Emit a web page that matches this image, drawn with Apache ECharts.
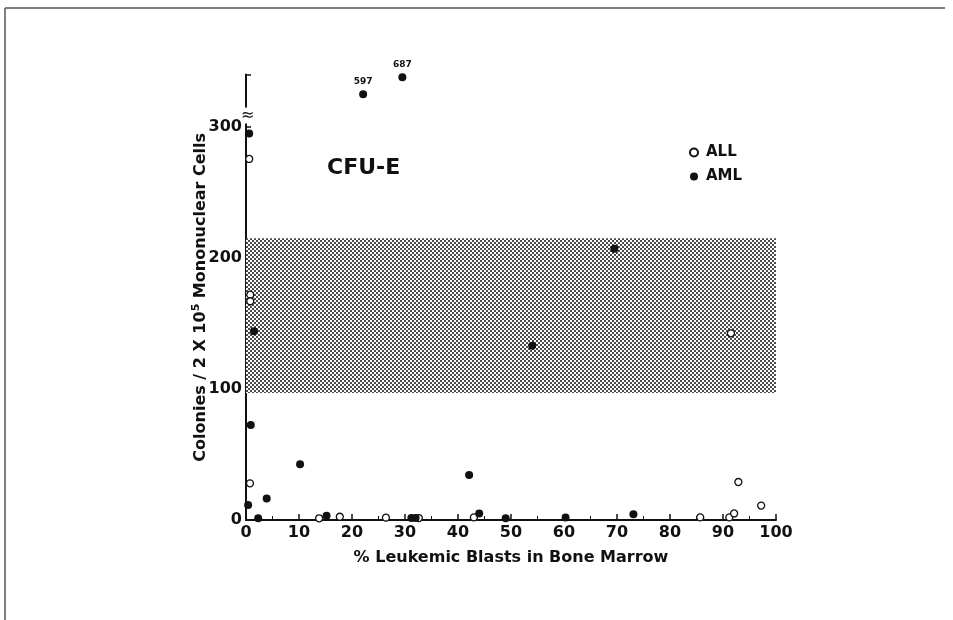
<!DOCTYPE html>
<html>
<head>
<meta charset="utf-8">
<script src="https://cdn.jsdelivr.net/npm/echarts@6/dist/echarts.min.js"></script>
<style>
  html, body { margin: 0; padding: 0; background: #fff; }
  #chart { width: 953px; height: 620px; }
</style>
</head>
<body>
<div id="chart"></div>
<script>
// % blasts (x) vs colonies per 2x10^5 cells (y)
const allPoints = [
  [0.6, 275.6], [0.8, 172], [0.8, 167], [0.75, 28],
  [13.8, 1.3], [17.7, 2.5], [26.4, 1.8], [32.6, 1.5],
  [43, 2], [85.7, 2], [91.2, 2], [92.1, 5],
  [92.9, 29], [97.2, 11], [91.5, 142.5]
]
const amlPoints = [
  [0.6, 295], [1.5, 144], [0.9, 72.5], [10.2, 42.5],
  [3.9, 16.5], [0.4, 11.5], [2.3, 1.3], [15.2, 3.3],
  [31.2, 1.5], [32.0, 1.5], [42.1, 34.3], [44, 5],
  [49, 1.3], [60.3, 2], [73.1, 4.3], [69.5, 207], [54, 133]
]
// off-scale AML values, drawn above the axis break
const offScaleX = [22.1, 29.5]
const offScaleY = [325, 338]   // where they sit above the break
const offScaleVal = [597, 687]

const normalRange = [97, 215]  // shaded normal range
const xTicks = [0, 10, 20, 30, 40, 50, 60, 70, 80, 90, 100]
const yTicks = [0, 100, 200, 300]

// halftone fill for the normal range
const pat = document.createElement('canvas')
pat.width = 4; pat.height = 4
const pctx = pat.getContext('2d')
pctx.fillStyle = '#fff'
pctx.fillRect(0, 0, 4, 4)
pctx.fillStyle = '#4a4a4a'
pctx.fillRect(0, 0, 2, 2)
pctx.fillRect(2, 2, 2, 2)

const chart = echarts.init(document.getElementById('chart'))
const font = 'DejaVu Sans'

const option = {
  backgroundColor: '#fff',
  animation: false,
  title: {
    text: 'CFU-E',
    left: 322, top: 152,
    textStyle: { fontFamily: font, fontSize: 22, fontWeight: 'bold', color: '#111' }
  },
  legend: {
    orient: 'vertical',
    left: 684, top: 140,
    itemWidth: 8, itemHeight: 8, itemGap: 9,
    icon: 'circle',
    textStyle: { fontFamily: font, fontSize: 15, fontWeight: 'bold', color: '#111', padding: [0, 0, 0, 3] },
    data: ['ALL', 'AML']
  },
  grid: { left: 246, right: 177, top: 74.6, bottom: 100 },
  xAxis: {
    type: 'value', min: 0, max: 100, interval: 10,
    name: '% Leukemic Blasts in Bone Marrow',
    nameLocation: 'middle', nameGap: 30,
    nameTextStyle: { fontFamily: font, fontSize: 16, fontWeight: 'bold', color: '#111' },
    axisLine: { show: true, lineStyle: { color: '#111', width: 2 } },
    axisTick: { inside: true, length: 6, lineStyle: { color: '#111', width: 1.5 } },
    minorTick: { show: true, splitNumber: 2, length: 4, lineStyle: { color: '#111' } },
    splitLine: { show: false },
    axisLabel: {
      margin: 5, fontFamily: font, fontSize: 16, fontWeight: 'bold', color: '#111',
      formatter: v => xTicks.includes(v) ? String(v) : ''
    }
  },
  yAxis: {
    type: 'value', min: 0, max: 340, interval: 100,
    name: 'Colonies / 2 X 10{sup|5} Mononuclear Cells',
    nameLocation: 'middle', nameGap: 35, nameMoveOverlap: false,
    nameTextStyle: {
      fontFamily: font, fontSize: 16, fontWeight: 'bold', color: '#111',
      rich: { sup: { fontFamily: font, fontSize: 11, fontWeight: 'bold', color: '#111', padding: [0, 0, 9, 0] } }
    },
    axisLine: { show: true, lineStyle: { color: '#111', width: 2 } },
    axisTick: { inside: true, length: 5, lineStyle: { color: '#111', width: 1.5 } },
    splitLine: { show: false },
    axisLabel: {
      margin: 4, fontFamily: font, fontSize: 16, fontWeight: 'bold', color: '#111',
      formatter: v => yTicks.includes(v) ? String(v) : ''
    }
  },
  series: [
    {
      name: 'ALL', type: 'scatter', symbol: 'circle', symbolSize: 7,
      itemStyle: { color: '#fff', borderColor: '#111', borderWidth: 1.3, opacity: 1 },
      data: allPoints,
      z: 3,
      markArea: {
        silent: true,
        itemStyle: { color: { image: pat, repeat: 'repeat' }, opacity: 1 },
        data: [[{ coord: [0, normalRange[0]] }, { coord: [100, normalRange[1]] }]],
        z: 1
      }
    },
    {
      name: 'AML', type: 'scatter', symbol: 'circle', symbolSize: 8,
      itemStyle: { color: '#111', opacity: 1 },
      data: amlPoints,
      z: 4
    },
    {
      name: 'AML off-scale', type: 'scatter', symbol: 'circle', symbolSize: 8,
      itemStyle: { color: '#111', opacity: 1 },
      data: offScaleX.map((x, i) => ({ value: [x, offScaleY[i]], real: offScaleVal[i] })),
      label: {
        show: true, position: 'top', distance: 4,
        fontFamily: font, fontSize: 9, fontWeight: 'bold', color: '#111',
        formatter: p => String(p.data.real)
      },
      z: 4
    }
  ]
}
chart.setOption(option)

// axis break mark just above 300, and the figure's frame lines
const brk = chart.convertToPixel({ gridIndex: 0 }, [0, 308])
chart.setOption({
  graphic: [
    { type: 'text', x: brk[0] - 5, y: brk[1] - 9, z: 10,
      style: { text: '≈', fontSize: 16, fontFamily: font, fill: '#111', backgroundColor: '#fff' } },
    { type: 'line', shape: { x1: 5, y1: 8, x2: 945, y2: 8 }, style: { stroke: '#555', lineWidth: 1.5 } },
    { type: 'line', shape: { x1: 5, y1: 8, x2: 5, y2: 620 }, style: { stroke: '#555', lineWidth: 1.5 } }
  ]
})
</script>
</body>
</html>
